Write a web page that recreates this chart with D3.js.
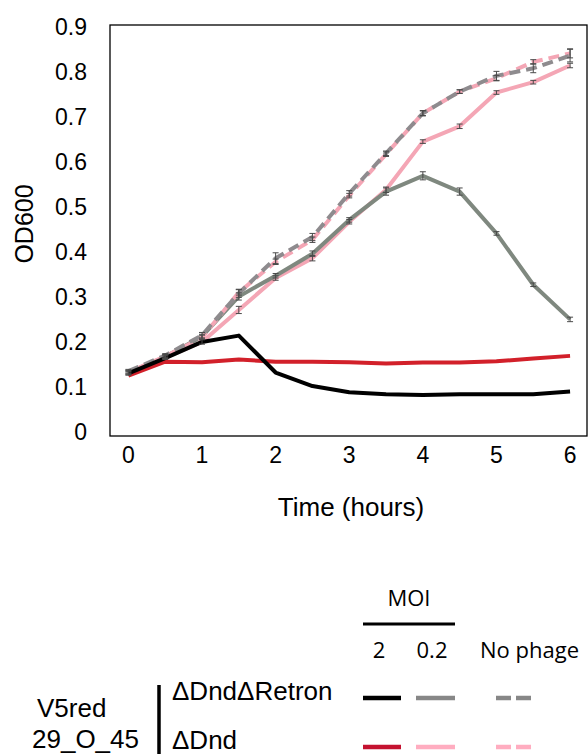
<!DOCTYPE html>
<html>
<head>
<meta charset="utf-8">
<script src="https://cdn.jsdelivr.net/npm/d3@7.9.0/dist/d3.min.js"></script>
<style>
  body { margin: 0; background: #fff; }
  svg { display: block; }
  .ax { font-family: "Liberation Sans", Arial, sans-serif; fill: #000; }
  .leg { font-family: "Open Sans", "Noto Sans", sans-serif; fill: #000; }
</style>
</head>
<body>
<svg width="588" height="754"></svg>
<script>
// time points (hours)
const hours = [0, 0.5, 1, 1.5, 2, 2.5, 3, 3.5, 4, 4.5, 5, 5.5, 6];

// OD600 readings
const retronMoi2   = [0.130, 0.164, 0.200, 0.214, 0.132, 0.102, 0.088, 0.084, 0.082, 0.084, 0.084, 0.084, 0.090];
const dndMoi2      = [0.125, 0.156, 0.155, 0.161, 0.156, 0.156, 0.155, 0.152, 0.154, 0.154, 0.157, 0.163, 0.169];
const retronMoi02  = [0.132, 0.167, 0.212, 0.301, 0.347, 0.396, 0.471, 0.534, 0.569, 0.534, 0.441, 0.327, 0.250];
const dndMoi02     = [0.130, 0.165, 0.200, 0.271, 0.342, 0.386, 0.467, 0.538, 0.645, 0.679, 0.754, 0.777, 0.814];
const retronNoPh   = [0.135, 0.170, 0.215, 0.308, 0.386, 0.433, 0.530, 0.619, 0.708, 0.756, 0.791, 0.808, 0.836];
const dndNoPh      = [0.133, 0.168, 0.210, 0.310, 0.378, 0.427, 0.525, 0.617, 0.708, 0.756, 0.786, 0.822, 0.841];

// error bar half-widths
const retronMoi02Err = [0.004, 0.004, 0.005, 0.008, 0.005, 0.006, 0.005, 0.008, 0.009, 0.008, 0.004, 0.004, 0.005];
const dndMoi02Err    = [0.004, 0.004, 0.005, 0.008, 0.005, 0.006, 0.005, 0.006, 0.004, 0.005, 0.004, 0.004, 0.005];
const retronNoPhErr  = [0.004, 0.004, 0.006, 0.009, 0.012, 0.008, 0.006, 0.005, 0.006, 0.004, 0.010, 0.010, 0.014];
const dndNoPhErr     = [0.004, 0.004, 0.005, 0.006, 0.006, 0.006, 0.005, 0.005, 0.005, 0.004, 0.006, 0.005, 0.010];

// tick labels
const yTicks = [0, 0.1, 0.2, 0.3, 0.4, 0.5, 0.6, 0.7, 0.8, 0.9];
const xTicks = [0, 1, 2, 3, 4, 5, 6];

// legend labels
const strains = ['\u0394Dnd\u0394Retron', '\u0394Dnd'];
const moiLabels = ['2', '0.2', 'No phage'];

const svg = d3.select('svg');

const box = { left: 110, right: 587, top: 25, bottom: 436 };

let x = d3.scaleLinear().domain([-0.25, 6.23]).range([box.left, box.right]);
let y = d3.scaleLinear().domain([-0.009, 0.904]).range([box.bottom, box.top]);

// plot frame
svg.append('rect')
    .attr('x', box.left).attr('y', box.top)
    .attr('width', box.right - box.left).attr('height', box.bottom - box.top)
    .attr('fill', 'none').attr('stroke', '#000').attr('stroke-width', 1.3);

// y tick labels
svg.selectAll('.ytick')
    .data(yTicks)
    .join('text')
    .attr('class', 'ax')
    .attr('x', 87)
    .attr('y', (d) => y(d) + 8)
    .attr('text-anchor', 'end')
    .attr('font-size', 23)
    .text((d) => d);

// x tick labels
svg.selectAll('.xtick')
    .data(xTicks)
    .join('text')
    .attr('class', 'ax')
    .attr('x', (d) => x(d))
    .attr('y', 463)
    .attr('text-anchor', 'middle')
    .attr('font-size', 23)
    .text((d) => d);

// axis titles
svg.append('text').attr('class', 'ax')
    .attr('x', 351).attr('y', 516)
    .attr('text-anchor', 'middle').attr('font-size', 26)
    .text('Time (hours)');

svg.append('text').attr('class', 'ax')
    .attr('transform', 'translate(33,224) rotate(-90)')
    .attr('text-anchor', 'middle').attr('font-size', 25)
    .text('OD600');

// series, in drawing order
const series = [
    { values: dndMoi02, err: dndMoi02Err, color: '#f4a6b5', dash: null },
    { values: retronMoi02, err: retronMoi02Err, color: '#7f887f', dash: null },
    { values: dndNoPh, err: dndNoPhErr, color: '#f4a6b5', dash: '11,6', offset: 8 },
    { values: retronNoPh, err: retronNoPhErr, color: '#8e8b8e', dash: '11,6', offset: 0 },
    { values: dndMoi2, err: null, color: '#d2202a', dash: null },
    { values: retronMoi2, err: null, color: '#000', dash: null },
];

let line = d3.line()
    .x((d, i) => x(hours[i]))
    .y((d) => y(d));

series.forEach((s) => {
    let p = svg.append('path')
        .attr('d', line(s.values))
        .attr('fill', 'none')
        .attr('stroke', s.color)
        .attr('stroke-width', 4)
        .attr('stroke-linejoin', 'round');
    if (s.dash) {
        p.attr('stroke-dasharray', s.dash).attr('stroke-dashoffset', s.offset);
    }
});

// error bars on top
series.forEach((s) => {
    if (!s.err) return;
    let g = svg.append('g').attr('stroke', '#4a4a4a').attr('stroke-width', 1);
    s.values.forEach((v, i) => {
        let cx = x(hours[i]);
        let y1 = y(v - s.err[i]), y2 = y(v + s.err[i]);
        g.append('line').attr('x1', cx).attr('x2', cx).attr('y1', y1).attr('y2', y2);
        g.append('line').attr('x1', cx - 3).attr('x2', cx + 3).attr('y1', y1).attr('y2', y1);
        g.append('line').attr('x1', cx - 3).attr('x2', cx + 3).attr('y1', y2).attr('y2', y2);
    });
});

// legend: MOI header
svg.append('text').attr('class', 'leg')
    .attr('x', 409).attr('y', 606)
    .attr('text-anchor', 'middle').attr('font-size', 22)
    .text('MOI');
svg.append('line')
    .attr('x1', 363).attr('x2', 455).attr('y1', 624).attr('y2', 624)
    .attr('stroke', '#000').attr('stroke-width', 3);

const colX = [379, 432, 480];
moiLabels.forEach((t, i) => {
    svg.append('text').attr('class', 'leg')
        .attr('x', colX[i]).attr('y', 658)
        .attr('text-anchor', i < 2 ? 'middle' : 'start')
        .attr('font-size', 22)
        .text(t);
});

// legend: strain labels
svg.append('text').attr('class', 'ax')
    .attr('x', 37).attr('y', 717).attr('font-size', 26).text('V5red');
svg.append('text').attr('class', 'ax')
    .attr('x', 32).attr('y', 748).attr('font-size', 26).text('29_O_45');
svg.append('line')
    .attr('x1', 159).attr('x2', 159).attr('y1', 685).attr('y2', 754)
    .attr('stroke', '#000').attr('stroke-width', 3.5);

const rowY = [698, 747];
strains.forEach((t, i) => {
    svg.append('text').attr('class', 'ax')
        .attr('x', 172).attr('y', i === 0 ? 700 : 749)
        .attr('font-size', 26).text(t);
});

// legend swatches
const swatchColors = [
    ['#000', '#878787', '#878787'],
    ['#c41230', '#ffadc0', '#ffadc0'],
];
swatchColors.forEach((row, r) => {
    let yy = rowY[r];
    svg.append('line').attr('x1', 363).attr('x2', 401).attr('y1', yy).attr('y2', yy)
        .attr('stroke', row[0]).attr('stroke-width', 4.5);
    svg.append('line').attr('x1', 416).attr('x2', 455).attr('y1', yy).attr('y2', yy)
        .attr('stroke', row[1]).attr('stroke-width', 4.5);
    svg.append('line').attr('x1', 496).attr('x2', 531).attr('y1', yy).attr('y2', yy)
        .attr('stroke', row[2]).attr('stroke-width', 4.5)
        .attr('stroke-dasharray', '15,5');
});
</script>
</body>
</html>
